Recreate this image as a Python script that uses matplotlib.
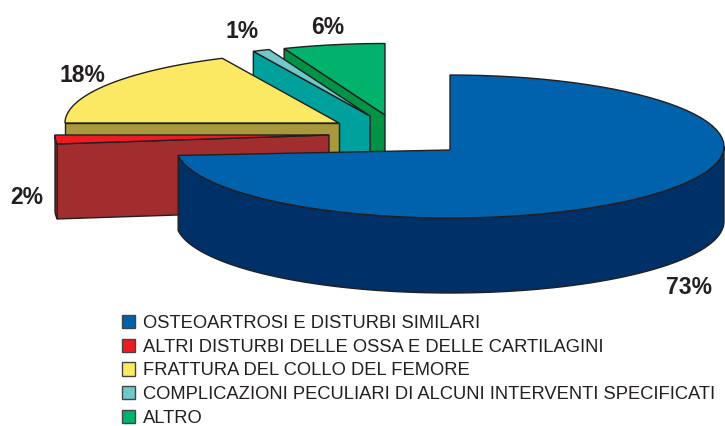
import numpy as np
import matplotlib
matplotlib.use("Agg")
import matplotlib.pyplot as plt
from matplotlib.patches import Polygon, Patch

plt.rcParams['font.family'] = ['Liberation Sans', 'DejaVu Sans']

# data
categories = [
    'OSTEOARTROSI E DISTURBI SIMILARI',
    'ALTRI DISTURBI DELLE OSSA E DELLE CARTILAGINI',
    'FRATTURA DEL COLLO DEL FEMORE',
    'COMPLICAZIONI PECULIARI DI ALCUNI INTERVENTI SPECIFICATI',
    'ALTRO',
]
values = [73, 2, 18, 1, 6]
pct_labels = ['73%', '2%', '18%', '1%', '6%']

# style
top_colors = ['#0061ad', '#ed1c24', '#fce963', '#6fc9c8', '#00b26b']
side_colors = ['#003068', '#a12d2e', '#a89a3c', '#00a19c', '#009245']
edge = '#231f20'

# layout, in pixels of the 725x426 picture
apex = [(450, 150), (329, 135), (339, 123), (370, 116), (385, 115)]
ell_cy = [146.5, 135, 123, 116, 115]  # ellipse centre differs for the big slice
rx, ry, depth = 274, 71.5, 75
label_pos = [(689, 288), (27, 197), (82, 75), (242, 31), (328, 27)]

fig = plt.figure(figsize=(7.25, 4.26), dpi=100)
ax = fig.add_axes([0, 0, 1, 1])
ax.set_xlim(0, 725)
ax.set_ylim(426, 0)
ax.axis('off')

# angles, clockwise from 12 o'clock
total = sum(values)
ends = 90 - 360 * np.cumsum(values) / total
starts = np.r_[90, ends[:-1]]


def rim(i, a0, a1, n=80):
    t = np.radians(np.linspace(a0, a1, n))
    return np.c_[apex[i][0] + rx * np.cos(t), ell_cy[i] - ry * np.sin(t)]


def down(pts):
    return pts + np.array([0, depth])


# back slices first, the big one goes on top
for i in [4, 3, 2, 1, 0]:
    a0, a1 = starts[i], ends[i]
    ap = np.array([apex[i]], dtype=float)
    # flat face on the leading radius
    if i > 0:
        first = rim(i, a0, a0, 1)
        face = np.vstack([ap, first, down(first), down(ap)])
        ax.add_patch(Polygon(face, fc=side_colors[i], ec=edge, lw=1, zorder=10 - i))
    # outer wall, only the part that faces us
    if i == 0:
        wall = rim(i, 0, a1)
    elif i == 1:
        wall = rim(i, a0, a1, 10)
    else:
        wall = None
    if wall is not None:
        ax.add_patch(Polygon(np.vstack([wall, down(wall)[::-1]]), fc=side_colors[i],
                             ec=edge, lw=1, zorder=10 - i))
    # top face
    ax.add_patch(Polygon(np.vstack([ap, rim(i, a0, a1)]), fc=top_colors[i], ec=edge,
                         lw=1, zorder=10 - i))

for txt, (x, y) in zip(pct_labels, label_pos):
    ax.text(x, y, txt, ha='center', va='center', fontsize=16.5, fontweight='bold',
            color=edge, zorder=20)

handles = [Patch(fc=c, ec='#444444', lw=1) for c in top_colors]
ax.legend(handles, categories, loc='upper left', bbox_to_anchor=(114.5 / 725, 1 - 307.5 / 426),
          frameon=False, fontsize=13.2, handlelength=0.72, handleheight=0.72,
          handletextpad=0.42, labelspacing=0.37, borderpad=0.4, borderaxespad=0,
          labelcolor=edge)

fig.savefig('out.png', dpi=100)
